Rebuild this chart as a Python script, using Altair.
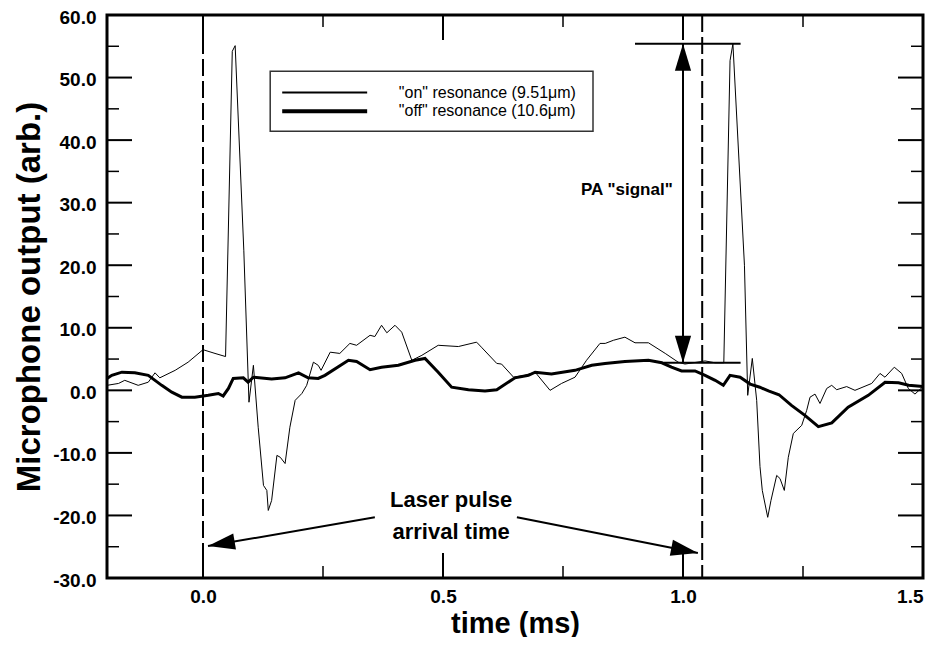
import math
import altair as alt
import pandas as pd

# ---------------- data ----------------
on_t = [-0.2, -0.176, -0.163, -0.135, -0.114, -0.1, -0.09, -0.058, -0.031, 0.0, 0.025, 0.047,
        0.061, 0.067, 0.085, 0.0958, 0.105, 0.115, 0.126, 0.133, 0.136, 0.143, 0.154, 0.161,
        0.171, 0.181, 0.192, 0.206, 0.216, 0.23, 0.24, 0.246, 0.265, 0.285, 0.306, 0.32, 0.348,
        0.358, 0.372, 0.383, 0.4, 0.414, 0.435, 0.456, 0.49, 0.532, 0.57, 0.58, 0.612, 0.622,
        0.647, 0.671, 0.692, 0.723, 0.747, 0.775, 0.799, 0.827, 0.838, 0.855, 0.879, 0.9, 0.928,
        0.963, 0.99, 1.004, 1.046, 1.067, 1.085, 1.098, 1.104, 1.128, 1.1348, 1.1444, 1.1535,
        1.1604, 1.1652, 1.1765, 1.1833, 1.1952, 1.2021, 1.2111, 1.2194, 1.2298, 1.2473, 1.2577,
        1.2646, 1.275, 1.2854, 1.2994, 1.3098, 1.3202, 1.341, 1.3583, 1.3931, 1.4104, 1.4208,
        1.4402, 1.4556, 1.4694, 1.4833, 1.5]
on_v = [0.8, 1.1, 1.6, 0.8, 1.3, 2.8, 2.0, 3.2, 4.5, 6.5, 5.9, 5.4,
        54.2, 55.1, 22.4, -1.9, 4.0, -5.9, -15.2, -16.0, -19.2, -17.6, -10.4, -10.7,
        -11.7, -5.9, -1.6, -0.5, 0.8, 4.5, 4.0, 3.2, 6.1, 5.9, 7.5, 7.2, 8.8,
        8.6, 10.4, 9.2, 10.4, 9.3, 4.8, 5.6, 7.2, 7.0, 7.7, 6.9, 4.3, 4.2,
        2.1, 2.4, 2.9, 0.0, 1.1, 2.1, 4.8, 7.5, 7.5, 8.0, 8.5, 7.6, 7.6,
        5.9, 4.5, 4.2, 4.7, 4.4, 4.4, 52.7, 55.4, 20.0, -0.8, 5.1, -1.6,
        -12.2, -16.0, -20.3, -17.6, -13.6, -14.1, -16.0, -10.7, -6.9, -5.6, -3.2,
        -1.1, -0.6, -2.1, 0.3, 0.8, 0.1, 0.6, 0.0, 1.1, 2.7, 2.1,
        3.7, 2.7, 0.3, -0.6, 0.6]

off_t = [-0.2, -0.19, -0.169, -0.142, -0.114, -0.086, -0.065, -0.044, -0.017, 0.011, 0.032,
         0.042, 0.053, 0.063, 0.084, 0.094, 0.105, 0.143, 0.171, 0.199, 0.219, 0.24, 0.254,
         0.303, 0.32, 0.348, 0.372, 0.407, 0.442, 0.4625, 0.49, 0.518, 0.553, 0.5875, 0.612,
         0.65, 0.678, 0.692, 0.726, 0.775, 0.81, 0.8375, 0.879, 0.928, 0.956, 0.976, 0.997,
         1.025, 1.046, 1.067, 1.084, 1.098, 1.119, 1.14, 1.16, 1.178, 1.2, 1.226, 1.254, 1.282,
         1.31, 1.344, 1.386, 1.421, 1.449, 1.47, 1.5]
off_v = [1.9, 2.4, 2.9, 2.8, 2.4, 0.8, -0.3, -1.1, -1.1, -0.8, -0.5,
         -0.9, 0.3, 1.9, 2.0, 1.3, 2.1, 1.8, 2.0, 2.8, 2.0, 1.9, 2.4,
         4.8, 4.6, 3.3, 3.7, 4.0, 4.8, 5.1, 2.9, 0.5, 0.1, -0.1, 0.1,
         2.0, 2.4, 2.9, 2.6, 3.2, 4.0, 4.3, 4.6, 4.8, 4.4, 3.7, 3.1,
         3.1, 2.4, 1.6, 0.8, 2.4, 2.1, 1.0, 0.5, -0.1, -0.7, -2.4, -4.0, -5.8,
         -5.2, -2.7, -0.8, 1.3, 1.2, 0.8, 0.6]

series_labels = ['"on" resonance (9.51\u03bcm)', '"off" resonance (10.6\u03bcm)']

x_domain = [-0.2, 1.5]
y_domain = [-30, 60]
x_label_values = [0.0, 0.5, 1.0, 1.5]
x_major_ticks = [0.0, 0.5, 1.0]
x_minor_ticks = [0.25, 0.75, 1.25]
y_label_values = [-30, -20, -10, 0, 10, 20, 30, 40, 50, 60]
y_major_ticks = [-20, -10, 0, 10, 20, 30, 40, 50]
y_minor_ticks = [-25, -15, -5, 5, 15, 25, 35, 45, 55]

pulse_times = [0.0, 1.04]

# PA signal annotation
sig_x = 1.0
sig_low, sig_high = 4.4, 55.4
sig_bar_top = [0.9, 1.12]
sig_bar_bottom = [0.96, 1.12]
sig_text = 'PA "signal"'
sig_text_pos = (0.883, 32.0)

# Laser pulse annotation
laser_lines = ["Laser pulse", "arrival time"]
laser_text_x = 0.517
laser_text_y = [-17.6, -22.6]
arrow_start_x = [0.358, 0.654]
arrow_start_y = [-20.3, -20.3]
arrow_tip_x = [0.0104, 1.031]
arrow_tip_y = [-24.9, -26.0]

# legend box (data coords)
leg_box = dict(x=0.14, x2=0.8125, y=51.0, y2=41.4)
leg_line_x = [0.165, 0.342]
leg_line_y = [47.6, 44.6]
leg_text_x = 0.408

# ---------------- chart ----------------
W, H = 816, 563
FONT = "Liberation Sans"

xs = alt.Scale(domain=x_domain, nice=False, zero=False)
ys = alt.Scale(domain=y_domain, nice=False, zero=False)

px_per_x = W / (x_domain[1] - x_domain[0])
px_per_y = H / (y_domain[1] - y_domain[0])


def arrow_angle(x0, y0, x1, y1):
    dx = (x1 - x0) * px_per_x
    dy = -(y1 - y0) * px_per_y
    return (math.degrees(math.atan2(dx, -dy)) + 360) % 360


on_df = pd.DataFrame({"t": on_t, "v": on_v})
off_df = pd.DataFrame({"t": off_t, "v": off_v})

label_expr = "replace(format(datum.value, '.1f'), '\u2212', '-')"

base_x_axis = alt.Axis(values=x_label_values, labelExpr=label_expr, ticks=False, domain=False,
                       grid=False, labelFont=FONT, labelFontWeight="bold", labelFontSize=19,
                       labelPadding=9, labelColor="black", title="time (ms)",
                       titleFont=FONT, titleFontSize=29, titleFontWeight="bold",
                       titleColor="black", titleX=W / 2, titleY=45, titleBaseline="middle",
                       titleAlign="center")
base_y_axis = alt.Axis(values=y_label_values, labelExpr=label_expr, ticks=False, domain=False,
                       grid=False, labelFont=FONT, labelFontWeight="bold", labelFontSize=19,
                       labelPadding=11, labelOffset=2, labelColor="black",
                       title="Microphone output (arb.)",
                       titleFont=FONT, titleFontSize=33, titleFontWeight="bold",
                       titleColor="black", titleAngle=270, titleX=-78, titleY=H / 2,
                       titleBaseline="middle", titleAlign="center")

on_line = alt.Chart(on_df).mark_line(color="black", strokeWidth=1).encode(
    x=alt.X("t:Q", scale=xs, axis=base_x_axis),
    y=alt.Y("v:Q", scale=ys, axis=base_y_axis),
)
off_line = alt.Chart(off_df).mark_line(color="black", strokeWidth=3).encode(
    x=alt.X("t:Q", scale=xs, axis=None),
    y=alt.Y("v:Q", scale=ys, axis=None),
)

# pulse arrival dashed lines
pulse = alt.Chart(pd.DataFrame({"t": pulse_times})).mark_rule(
    color="black", strokeWidth=2, strokeDash=[17, 5]).encode(
    x=alt.X("t:Q", scale=xs, axis=None))

# inward ticks (left/right/bottom/top)
def ytick_layer(vals, length, width):
    df = pd.DataFrame({"v": vals})
    left = alt.Chart(df).mark_rule(color="black", strokeWidth=width).encode(
        y=alt.Y("v:Q", scale=ys, axis=None), x=alt.value(0), x2=alt.value(length))
    right = alt.Chart(df).mark_rule(color="black", strokeWidth=width).encode(
        y=alt.Y("v:Q", scale=ys, axis=None), x=alt.value(W - length), x2=alt.value(W))
    return [left, right]


def xtick_layer(vals, length, width):
    df = pd.DataFrame({"t": vals})
    bottom = alt.Chart(df).mark_rule(color="black", strokeWidth=width).encode(
        x=alt.X("t:Q", scale=xs, axis=None), y=alt.value(H - length), y2=alt.value(H))
    top = alt.Chart(df).mark_rule(color="black", strokeWidth=width).encode(
        x=alt.X("t:Q", scale=xs, axis=None), y=alt.value(0), y2=alt.value(length))
    return [bottom, top]


ticks = (ytick_layer(y_major_ticks, 25, 2) + ytick_layer(y_minor_ticks, 12, 1.5)
         + xtick_layer(x_major_ticks, 25, 2) + xtick_layer(x_minor_ticks, 12, 1.5))

# PA signal arrow and bars
seg_df = pd.DataFrame({
    "x": [sig_x, sig_bar_top[0], sig_bar_bottom[0], arrow_start_x[0], arrow_start_x[1]],
    "x2": [sig_x, sig_bar_top[1], sig_bar_bottom[1], arrow_tip_x[0], arrow_tip_x[1]],
    "y": [sig_low, sig_high, sig_low, arrow_start_y[0], arrow_start_y[1]],
    "y2": [sig_high, sig_high, sig_low, arrow_tip_y[0], arrow_tip_y[1]],
})
segs = alt.Chart(seg_df).mark_rule(color="black", strokeWidth=2).encode(
    x=alt.X("x:Q", scale=xs, axis=None), x2="x2:Q",
    y=alt.Y("y:Q", scale=ys, axis=None), y2="y2:Q")

head_df = pd.DataFrame({
    "x": [sig_x, sig_x, arrow_tip_x[0], arrow_tip_x[1]],
    "y": [sig_high, sig_low, arrow_tip_y[0], arrow_tip_y[1]],
    "ang": [0.0, 180.0,
            arrow_angle(arrow_start_x[0], arrow_start_y[0], arrow_tip_x[0], arrow_tip_y[0]),
            arrow_angle(arrow_start_x[1], arrow_start_y[1], arrow_tip_x[1], arrow_tip_y[1])],
})
heads = alt.Chart(head_df).mark_point(
    shape="M0,0L-0.3,1L0.3,1Z", filled=True, color="black", opacity=1, size=2916,
    strokeWidth=0).encode(
    x=alt.X("x:Q", scale=xs, axis=None), y=alt.Y("y:Q", scale=ys, axis=None),
    angle=alt.Angle("ang:Q", scale=None))

sig_label = alt.Chart(pd.DataFrame({"x": [sig_text_pos[0]], "y": [sig_text_pos[1]],
                                    "s": [sig_text]})).mark_text(
    font=FONT, fontWeight="bold", fontSize=17, color="black", align="center",
    baseline="middle").encode(
    x=alt.X("x:Q", scale=xs, axis=None), y=alt.Y("y:Q", scale=ys, axis=None), text="s:N")

laser_label = alt.Chart(pd.DataFrame({"x": [laser_text_x] * 2, "y": laser_text_y,
                                      "s": laser_lines})).mark_text(
    font=FONT, fontWeight="bold", fontSize=22, color="black", align="center",
    baseline="middle").encode(
    x=alt.X("x:Q", scale=xs, axis=None), y=alt.Y("y:Q", scale=ys, axis=None), text="s:N")

# legend
box = alt.Chart(pd.DataFrame([leg_box])).mark_rect(
    fill="white", stroke="#333333", strokeWidth=1.5).encode(
    x=alt.X("x:Q", scale=xs, axis=None), x2="x2:Q",
    y=alt.Y("y:Q", scale=ys, axis=None), y2="y2:Q")
leg_lines = alt.Chart(pd.DataFrame({"x": [leg_line_x[0]] * 2, "x2": [leg_line_x[1]] * 2,
                                    "y": leg_line_y, "w": [2.0, 4.0]})).mark_rule(
    color="black").encode(
    x=alt.X("x:Q", scale=xs, axis=None), x2="x2:Q",
    y=alt.Y("y:Q", scale=ys, axis=None),
    strokeWidth=alt.StrokeWidth("w:Q", scale=None, legend=None))
leg_text = alt.Chart(pd.DataFrame({"x": [leg_text_x] * 2, "y": leg_line_y,
                                   "s": series_labels})).mark_text(
    font=FONT, fontSize=16, color="black", align="left", baseline="middle").encode(
    x=alt.X("x:Q", scale=xs, axis=None), y=alt.Y("y:Q", scale=ys, axis=None), text="s:N")

chart = alt.layer(
    on_line, off_line, pulse, *ticks, segs, heads, sig_label, laser_label,
    box, leg_lines, leg_text,
).resolve_axis(x="independent", y="independent").properties(
    width=W, height=H,
    autosize=alt.AutoSizeParams(type="none"),
    padding={"left": 99, "top": 7, "right": 7, "bottom": 59},
    background="white",
).configure_view(stroke="black", strokeWidth=3)

chart.save("out.html", embed_options={"renderer": "svg", "actions": False})
